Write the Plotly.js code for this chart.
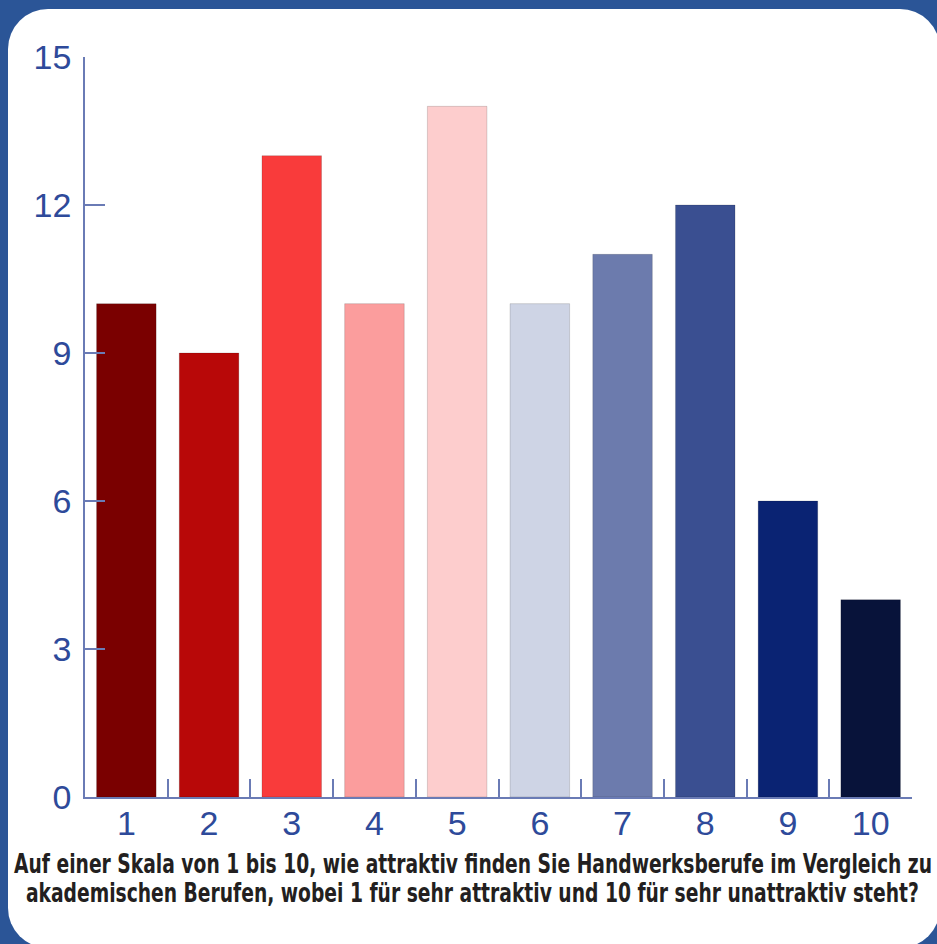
<!DOCTYPE html>
<html>
<head>
<meta charset="utf-8">
<script src="https://cdn.plot.ly/plotly-3.0.1.min.js"></script>
<style>
  html, body { margin:0; padding:0; width:937px; height:944px; overflow:hidden; background:#2b5597; }
  #panel { position:absolute; left:8px; top:9px; width:932px; height:939px; background:#ffffff; border-radius:40px; }
  #chart { position:absolute; left:0; top:0; width:937px; height:944px; }
  #chart .annotation-text { transform-box: fill-box; transform-origin: center; transform: scale(0.8, 1); }
</style>
</head>
<body>
<div id="panel"></div>
<div id="chart"></div>
<script>
const categories = ["1","2","3","4","5","6","7","8","9","10"];
const values = [10, 9, 13, 10, 14, 10, 11, 12, 6, 4];
const barColors = ["#7a0000","#b80808","#f93b3b","#fb9d9d","#fdcdcd","#ced4e5","#6c7bad","#3a4f91","#0a2373","#08133a"];
const yTicks = [0, 3, 6, 9, 12, 15];
const titleLines = [
  "Auf einer Skala von 1 bis 10, wie attraktiv finden Sie Handwerksberufe im Vergleich zu",
  "akademischen Berufen, wobei 1 für sehr attraktiv und 10 für sehr unattraktiv steht?"
];

const axisColor = "#6a7bb5";
const labelFont = {family: "Liberation Sans, Arial, sans-serif", size: 34, color: "#2e4a9a"};
const titleFont = {family: "DejaVu Sans Condensed, Liberation Sans Narrow, sans-serif", size: 26, color: "#231f20", weight: "bold"};
const titleY = [-0.0905, -0.1297];

Plotly.newPlot("chart", [{
  type: "bar",
  x: categories,
  y: values,
  width: 0.72,
  marker: {color: barColors, line: {color: "rgba(0,0,0,0.15)", width: 1}},
  hoverinfo: "x+y"
}], {
  width: 937, height: 944,
  margin: {l: 85, r: 25, t: 57, b: 147},
  paper_bgcolor: "rgba(0,0,0,0)",
  plot_bgcolor: "rgba(0,0,0,0)",
  showlegend: false,
  xaxis: {
    type: "category",
    range: [-0.5, 9.5],
    showline: true, linecolor: axisColor, linewidth: 1.5,
    ticks: "inside", tickson: "boundaries", ticklen: 18, tickcolor: axisColor, tickwidth: 1.5,
    tickfont: labelFont, ticklabelstandoff: -5,
    showgrid: false, zeroline: false, fixedrange: true
  },
  yaxis: {
    range: [0, 15],
    tickvals: yTicks,
    showline: true, linecolor: axisColor, linewidth: 1.5,
    ticks: "inside", ticklen: 20, tickcolor: axisColor, tickwidth: 1.5,
    tickfont: labelFont, ticklabelstandoff: 5,
    showgrid: false, zeroline: false, fixedrange: true
  },
  annotations: titleLines.map((t, i) => ({
    text: t,
    xref: "paper", yref: "paper",
    x: 0.469, y: titleY[i],
    xanchor: "center", yanchor: "middle",
    showarrow: false,
    font: titleFont
  }))
}, {displayModeBar: false});
</script>
</body>
</html>
